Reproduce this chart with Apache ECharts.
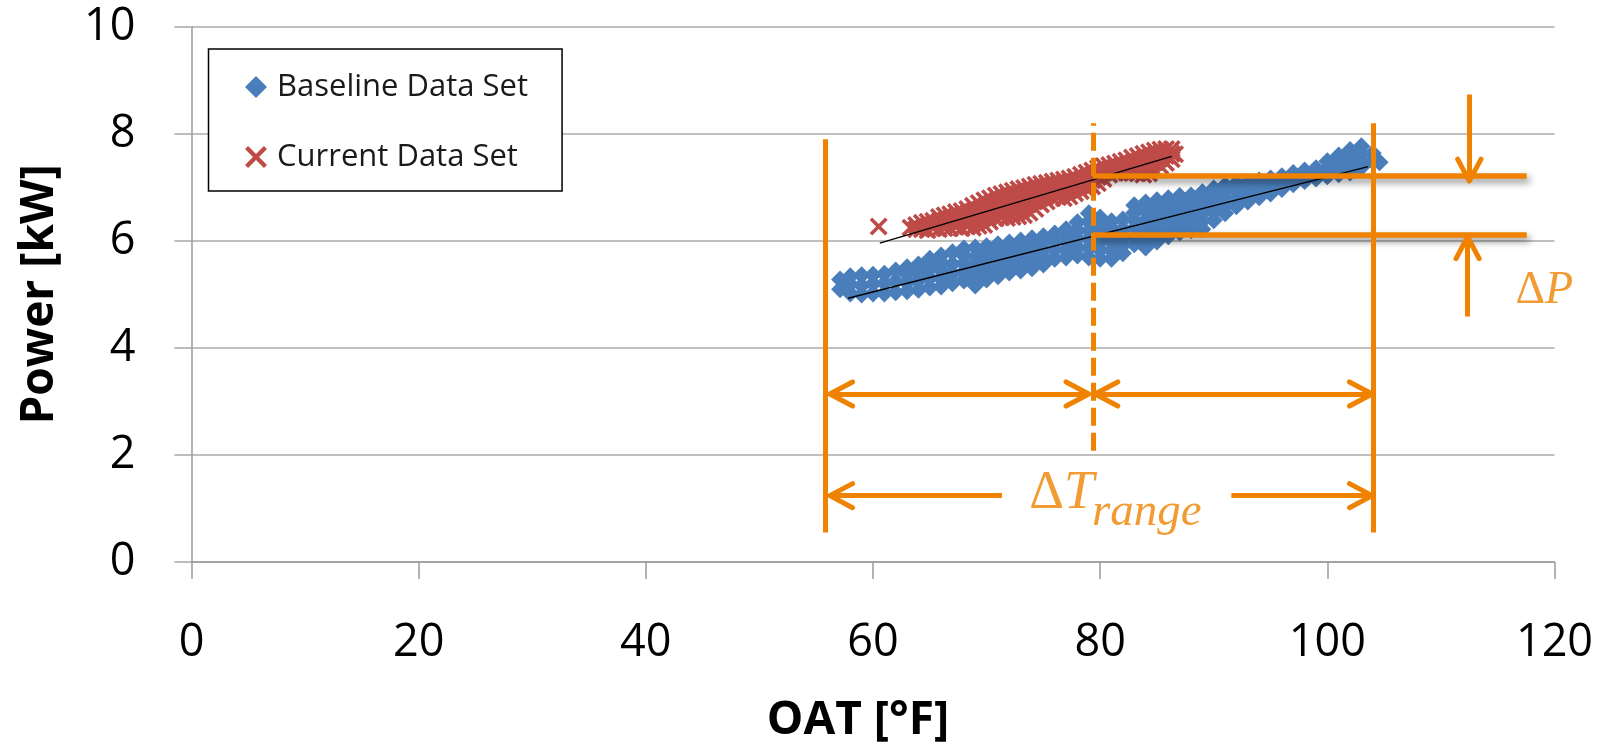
<!DOCTYPE html>
<html><head><meta charset="utf-8">
<script src="https://cdn.jsdelivr.net/npm/echarts@6/dist/echarts.min.js"></script>
<style>html,body{margin:0;padding:0;background:#fff}#c{width:1610px;height:745px}</style>
</head><body><div id="c"></div>
<script>
// ---------- data ----------
const baselineData = [
[57.1,5.10],[57.1,5.28],
[58,5.02],[58,5.19],[58,5.34],
[59,5.00],[59,5.17],[59,5.36],
[60,5.02],[60,5.20],[60,5.37],
[61,5.02],[61,5.21],[61,5.39],
[62,5.04],[62,5.25],[62,5.45],
[63,5.06],[63,5.22],[63,5.38],[63,5.51],
[64,5.09],[64,5.26],[64,5.42],[64,5.56],
[65,5.13],[65,5.31],[65,5.49],[65,5.67],
[66,5.15],[66,5.30],[66,5.45],[66,5.60],[66,5.73],
[67,5.21],[67,5.39],[67,5.57],[67,5.79],
[68,5.26],[68,5.42],[68,5.58],[68,5.73],[68,5.86],
[69,5.17],[69,5.34],[69,5.52],[69,5.70],[69,5.88],
[70,5.28],[70,5.44],[70,5.60],[70,5.76],[70,5.90],
[71,5.34],[71,5.50],[71,5.66],[71,5.82],[71,5.94],
[72,5.41],[72,5.56],[72,5.71],[72,5.85],[72,5.97],
[73,5.45],[73,5.60],[73,5.75],[73,5.89],[73,6.01],
[74,5.49],[74,5.64],[74,5.79],[74,5.93],[74,6.05],
[75,5.56],[75,5.70],[75,5.84],[75,5.97],[75,6.09],
[76,5.67],[76,5.83],[76,5.99],[76,6.14],
[77,5.69],[77,5.84],[77,5.99],[77,6.12],[77,6.22],
[78,5.73],[78,5.89],[78,6.05],[78,6.20],[78,6.35],
[79,5.69],[79,5.86],[79,6.03],[79,6.19],[79,6.36],[79,6.52],
[80,5.67],[80,5.83],[80,5.99],[80,6.15],[80,6.30],[80,6.44],
[81,5.67],[81,5.82],[81,5.97],[81,6.11],[81,6.24],[81,6.37],
[82,5.77],[82,5.92],[82,6.07],[82,6.23],[82,6.40],
[83,5.94],[83,6.09],[83,6.24],[83,6.39],[83,6.53],[83,6.67],
[84,5.88],[84,6.05],[84,6.22],[84,6.39],[84,6.56],[84,6.72],
[85,5.99],[85,6.15],[85,6.31],[85,6.46],[85,6.61],[85,6.76],
[86,6.09],[86,6.24],[86,6.39],[86,6.53],[86,6.67],[86,6.80],
[87,6.16],[87,6.30],[87,6.44],[87,6.58],[87,6.71],[87,6.84],
[88,6.20],[88,6.34],[88,6.48],[88,6.61],[88,6.74],[88,6.85],
[89,6.22],[89,6.37],[89,6.52],[89,6.66],[89,6.79],[89,6.91],
[90,6.39],[90,6.54],[90,6.69],[90,6.84],[90,6.98],
[91,6.52],[91,6.66],[91,6.80],[91,6.93],[91,7.04],
[92,6.65],[92,6.79],[92,6.94],[92,7.08],
[93,6.74],[93,6.87],[93,6.99],[93,7.10],
[94,6.82],[94,6.93],[94,7.03],[94,7.13],
[95,6.89],[95,7.00],[95,7.09],[95,7.17],
[96,6.97],[96,7.09],[96,7.21],
[97,7.06],[97,7.17],[97,7.27],
[98,7.12],[98,7.22],[98,7.32],
[99,7.17],[99,7.27],[99,7.36],
[100,7.21],[100,7.35],[100,7.49],
[101,7.25],[101,7.38],[101,7.50],[101,7.60],
[102,7.28],[102,7.42],[102,7.56],[102,7.70],
[103,7.38],[103,7.51],[103,7.64],[103,7.77],
[104,7.49],[104,7.64],
[104.6,7.47]
];
const currentData = [
[60.5,6.27],
[63.3,6.25],
[63.8,6.22],[63.8,6.30],
[64.3,6.22],[64.3,6.34],
[64.8,6.20],[64.8,6.36],
[65.3,6.24],[65.3,6.38],
[65.8,6.22],[65.8,6.36],[65.8,6.45],
[66.3,6.24],[66.3,6.38],[66.3,6.48],
[66.8,6.24],[66.8,6.37],[66.8,6.50],
[67.3,6.26],[67.3,6.40],[67.3,6.54],
[67.8,6.24],[67.8,6.40],[67.8,6.56],
[68.3,6.27],[68.3,6.43],[68.3,6.60],
[68.8,6.25],[68.8,6.40],[68.8,6.55],[68.8,6.66],
[69.3,6.28],[69.3,6.43],[69.3,6.58],[69.3,6.71],
[69.8,6.30],[69.8,6.45],[69.8,6.60],[69.8,6.76],
[70.3,6.36],[70.3,6.52],[70.3,6.67],[70.3,6.80],
[70.8,6.42],[70.8,6.57],[70.8,6.72],[70.8,6.85],
[71.3,6.44],[71.3,6.59],[71.3,6.74],[71.3,6.88],
[71.8,6.43],[71.8,6.60],[71.8,6.76],[71.8,6.91],
[72.3,6.45],[72.3,6.61],[72.3,6.78],[72.3,6.94],
[72.8,6.46],[72.8,6.63],[72.8,6.80],[72.8,6.97],
[73.3,6.48],[73.3,6.65],[73.3,6.83],[73.3,6.99],
[73.8,6.53],[73.8,6.70],[73.8,6.86],[73.8,7.02],
[74.3,6.60],[74.3,6.75],[74.3,6.90],[74.3,7.05],
[74.8,6.68],[74.8,6.81],[74.8,6.94],[74.8,7.07],
[75.3,6.74],[75.3,6.86],[75.3,6.98],[75.3,7.09],
[75.8,6.80],[75.8,6.91],[75.8,7.01],[75.8,7.11],
[76.3,6.82],[76.3,6.93],[76.3,7.03],[76.3,7.13],
[76.8,6.80],[76.8,6.92],[76.8,7.04],[76.8,7.15],
[77.3,6.83],[77.3,6.95],[77.3,7.06],[77.3,7.17],
[77.8,6.89],[77.8,7.00],[77.8,7.10],[77.8,7.20],
[78.3,6.93],[78.3,7.04],[78.3,7.14],[78.3,7.24],
[78.8,6.97],[78.8,7.08],[78.8,7.18],[78.8,7.28],
[79.3,7.02],[79.3,7.13],[79.3,7.23],[79.3,7.32],
[79.8,7.08],[79.8,7.19],[79.8,7.29],[79.8,7.36],
[80.3,7.16],[80.3,7.27],[80.3,7.40],
[80.8,7.24],[80.8,7.33],[80.8,7.42],
[81.3,7.27],[81.3,7.36],[81.3,7.45],
[81.8,7.28],[81.8,7.38],[81.8,7.48],
[82.3,7.28],[82.3,7.40],[82.3,7.51],
[82.8,7.27],[82.8,7.41],[82.8,7.56],
[83.3,7.26],[83.3,7.43],[83.3,7.59],
[83.8,7.24],[83.8,7.38],[83.8,7.51],[83.8,7.63],
[84.3,7.26],[84.3,7.40],[84.3,7.53],[84.3,7.66],
[84.8,7.33],[84.8,7.47],[84.8,7.60],[84.8,7.69],
[85.3,7.40],[85.3,7.55],[85.3,7.71],
[85.8,7.46],[85.8,7.59],[85.8,7.72],
[86.3,7.53],[86.3,7.63],[86.3,7.72],
[86.6,7.62]
];
const baselineTrend = [[57.8,4.93],[103.6,7.39]];
const currentTrend = [[60.6,5.96],[86.3,7.58]];

const seriesNames = ['Baseline Data Set','Current Data Set'];
const xTicks = {min:0, max:120, interval:20};
const yTicks = {min:0, max:10, interval:2};
const xTitle = 'OAT [°F]';
const yTitle = 'Power [kW]';

// annotation geometry (data coordinates)
const annoSolid = [
  [[55.8,0.55],[55.8,7.90]],
  [[104.05,0.55],[104.05,8.20]]
];
const annoDashed = [ [[79.35,2.08],[79.35,8.20]] ];
const annoLevels = [
  [[79.35,7.22],[117.55,7.22]],
  [[79.35,6.12],[117.55,6.12]]
];
const annoShafts = [
  [[112.5,8.74],[112.5,7.16]],
  [[112.35,4.59],[112.35,6.04]],
  [[56.4,3.14],[78.8,3.14]],
  [[79.75,3.14],[103.75,3.14]],
  [[56.4,1.24],[71.35,1.24]],
  [[91.55,1.24],[103.75,1.24]]
];
const annoHeads = [
  [[111.47,7.53],[112.5,7.12],[113.53,7.53]],
  [[111.33,5.67],[112.35,6.08],[113.37,5.67]],
  [[58.2,3.365],[56.2,3.14],[58.2,2.915]],
  [[77.0,3.365],[79.0,3.14],[77.0,2.915]],
  [[81.55,3.365],[79.55,3.14],[81.55,2.915]],
  [[101.95,3.365],[103.95,3.14],[101.95,2.915]],
  [[58.2,1.465],[56.2,1.24],[58.2,1.015]],
  [[101.95,1.465],[103.95,1.24],[101.95,1.015]]
];
const annoTexts = [
  {value:[119.1,5.06], text:'{d|Δ}{p|P}'},
  {value:[76.6,1.27], text:'{D|Δ}{T|T}'},
  {value:[84.1,0.92], text:'{r|range}'}
];

// ---------- chart ----------
const ORANGE = '#EF8200';
const X_PATH = 'path://M0,14L14,0L50,36L86,0L100,14L64,50L100,86L86,100L50,64L14,100L0,86L36,50Z';
const chart = echarts.init(document.getElementById('c'), null, {renderer:'canvas'});
const serif = '"Liberation Serif","DejaVu Serif",serif';
const sans = '"Open Sans","Noto Sans",sans-serif';

chart.setOption({
  animation:false,
  backgroundColor:'#fff',
  grid:{left:191.5, right:55.5, top:27, bottom:183, containLabel:false, outerBoundsMode:'none'},
  legend:{
    data:seriesNames, orient:'vertical', left:208.5, top:49,
    padding:[19,34,15,36.5], itemGap:32, itemWidth:22, itemHeight:22,
    backgroundColor:'#fff', borderColor:'#000', borderWidth:1.5,
    textStyle:{fontFamily:sans, fontSize:31, color:'#1a1a1a', lineHeight:38, padding:[0,0,0,5]}
  },
  xAxis:{
    type:'value', min:xTicks.min, max:xTicks.max, interval:xTicks.interval,
    name:xTitle, nameLocation:'middle', nameGap:136,
    nameTextStyle:{fontFamily:sans, fontSize:46, fontWeight:'bold', color:'#000', padding:[0,30,0,0]},
    axisLine:{lineStyle:{color:'#9a9a9a', width:1.5}},
    axisTick:{length:17, lineStyle:{color:'#9a9a9a', width:1.5}},
    axisLabel:{margin:59, fontFamily:sans, fontSize:45, color:'#000'},
    splitLine:{show:false}
  },
  yAxis:{
    type:'value', min:yTicks.min, max:yTicks.max, interval:yTicks.interval,
    name:yTitle, nameLocation:'middle', nameGap:129,
    nameTextStyle:{fontFamily:sans, fontSize:46, fontWeight:'bold', color:'#000'},
    axisLine:{show:true, lineStyle:{color:'#9a9a9a', width:1.5}},
    axisTick:{show:true, length:17, lineStyle:{color:'#a6a6a6', width:1.5}},
    axisLabel:{margin:56, fontFamily:sans, fontSize:45, color:'#000'},
    splitLine:{lineStyle:{color:'#ababab', width:1.5}}
  },
  series:[
    {name:seriesNames[0], type:'scatter', data:baselineData, symbol:'diamond', symbolSize:18,
     itemStyle:{color:'#4A7EBB', opacity:1}, z:2},
    {name:seriesNames[1], type:'scatter', data:currentData, symbol:X_PATH, symbolSize:18,
     itemStyle:{color:'#BE4B48', opacity:1}, z:3},
    {type:'line', data:baselineTrend, symbol:'none', lineStyle:{color:'#000', width:1.3}, z:4, silent:true},
    {type:'line', data:currentTrend, symbol:'none', lineStyle:{color:'#000', width:1.3}, z:4, silent:true},
    {type:'lines', coordinateSystem:'cartesian2d', silent:true, z:6,
     lineStyle:{color:ORANGE, width:5, opacity:1, cap:'butt'},
     data:annoSolid.map(c=>({coords:c}))},
    {type:'lines', coordinateSystem:'cartesian2d', silent:true, z:6,
     lineStyle:{color:ORANGE, width:5, opacity:1, type:[18,7]},
     data:annoDashed.map(c=>({coords:c}))},
    {type:'lines', coordinateSystem:'cartesian2d', silent:true, z:5,
     lineStyle:{color:ORANGE, width:5.5, opacity:1, shadowColor:'rgba(0,0,0,0.45)', shadowBlur:7, shadowOffsetX:3, shadowOffsetY:4},
     data:annoLevels.map(c=>({coords:c}))},
    {type:'lines', coordinateSystem:'cartesian2d', silent:true, z:6,
     lineStyle:{color:ORANGE, width:5, opacity:1, cap:'butt'},
     data:annoShafts.map(c=>({coords:c}))},
    {type:'lines', coordinateSystem:'cartesian2d', polyline:true, silent:true, z:6,
     lineStyle:{color:ORANGE, width:5, opacity:1, cap:'round', join:'round'},
     data:annoHeads.map(c=>({coords:c}))},
    {type:'scatter', silent:true, z:7, symbolSize:1, itemStyle:{color:'rgba(0,0,0,0)'},
     data:annoTexts.map(t=>({value:t.value, label:{formatter:t.text}})),
     label:{show:true, position:'inside',
       rich:{
         d:{fontFamily:serif, fontSize:46, color:ORANGE},
         p:{fontFamily:serif, fontSize:46, fontStyle:'italic', color:ORANGE},
         D:{fontFamily:serif, fontSize:54, color:ORANGE},
         T:{fontFamily:serif, fontSize:54, fontStyle:'italic', color:ORANGE},
         r:{fontFamily:serif, fontSize:47, fontStyle:'italic', color:ORANGE}
       }}}
  ]
});
</script></body></html>
